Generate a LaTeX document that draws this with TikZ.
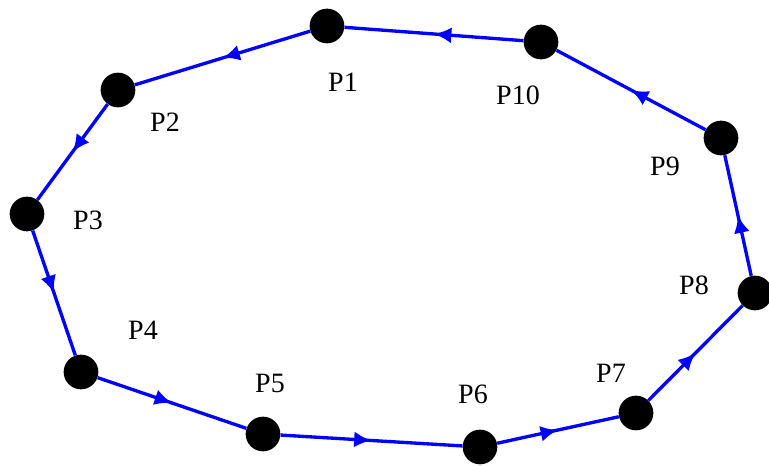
\documentclass[tikz,border=0pt]{standalone}
\usepackage{fontspec}
\setmainfont{Liberation Serif}
\usetikzlibrary{arrows.meta,decorations.markings}
\definecolor{loopblue}{HTML}{0000FF}

\begin{document}
\begin{tikzpicture}[
  x=0.75pt, y=-0.75pt,
  every node/.style={font=\fontsize{21}{24}\selectfont},
  pt/.style={circle, fill=black, draw=none, minimum size=26pt, inner sep=0pt},
  lbl/.style={inner sep=0pt},
  edge/.style={draw=loopblue, line width=2.5pt,
               postaction={decorate},
               decoration={markings, mark=at position 0.5 with
                 {\arrow[loopblue]{Latex[length=13pt,width=12pt]}}}}
]
  \useasboundingbox (0,0) rectangle (769,466);

  % points of the closed loop
  \node[pt] (p1)  at (327,26)  {};
  \node[pt] (p2)  at (118,90)  {};
  \node[pt] (p3)  at (27,214)  {};
  \node[pt] (p4)  at (81,372)  {};
  \node[pt] (p5)  at (263,434) {};
  \node[pt] (p6)  at (480,447) {};
  \node[pt] (p7)  at (636,413) {};
  \node[pt] (p8)  at (755,293) {};
  \node[pt] (p9)  at (721,138) {};
  \node[pt] (p10) at (541,42)  {};

  % labels
  \node[lbl] (l1)  at (343,82)  {P1};
  \node[lbl] (l2)  at (165,122) {P2};
  \node[lbl] (l3)  at (88,220)  {P3};
  \node[lbl] (l4)  at (143,330) {P4};
  \node[lbl] (l5)  at (270,383) {P5};
  \node[lbl] (l6)  at (473,394) {P6};
  \node[lbl] (l7)  at (611,373) {P7};
  \node[lbl] (l8)  at (694,285) {P8};
  \node[lbl] (l9)  at (665,166) {P9};
  \node[lbl] (l10) at (518,95)  {P10};

  % edges
  \foreach \a/\b in {p1/p2, p2/p3, p3/p4, p4/p5, p5/p6,
                     p6/p7, p7/p8, p8/p9, p9/p10, p10/p1}
    \draw[edge] (\a) -- (\b);

\end{tikzpicture}
\end{document}
